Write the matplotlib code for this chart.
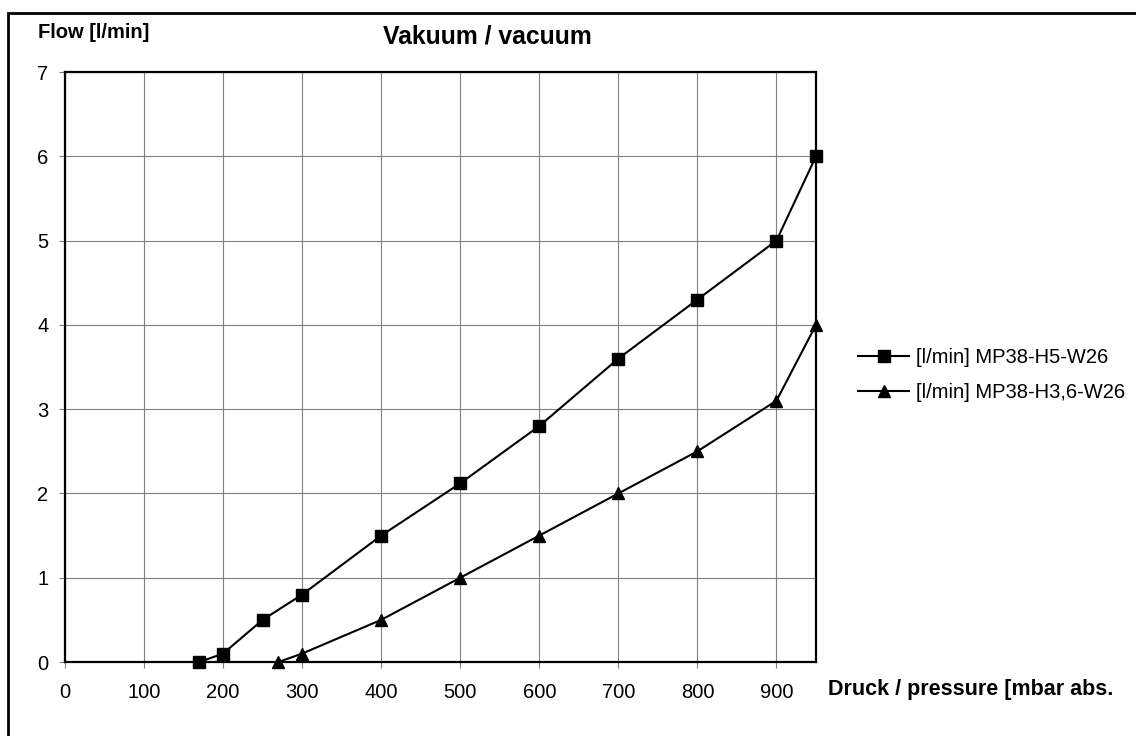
import matplotlib.pyplot as plt
from matplotlib.patches import Rectangle

plt.rcParams['font.family'] = ['Liberation Sans', 'DejaVu Sans']

# data
x_h5 = [170, 200, 250, 300, 400, 500, 600, 700, 800, 900, 950]
y_h5 = [0.0, 0.1, 0.5, 0.8, 1.5, 2.12, 2.8, 3.6, 4.3, 5.0, 6.0]
x_h36 = [270, 300, 400, 500, 600, 700, 800, 900, 950]
y_h36 = [0.0, 0.1, 0.5, 1.0, 1.5, 2.0, 2.5, 3.1, 4.0]
label_h5 = "[l/min] MP38-H5-W26"
label_h36 = "[l/min] MP38-H3,6-W26"
x_ticks = [0, 100, 200, 300, 400, 500, 600, 700, 800, 900]
y_ticks = [0, 1, 2, 3, 4, 5, 6, 7]

W, H = 1136, 736
fig = plt.figure(figsize=(W / 100, H / 100), dpi=100)

# outer frame (runs off the right / bottom edge like the original)
fig.patches.append(Rectangle((8 / W, -0.05), 1.2, 1 - 13 / H + 0.05,
                             transform=fig.transFigure, fill=False,
                             edgecolor='black', linewidth=2))

ax = fig.add_axes([65 / W, 1 - 662 / H, (816 - 65) / W, (662 - 72) / H])
ax.plot(x_h5, y_h5, color='black', lw=1.5, marker='s', ms=8,
        clip_on=False, zorder=5, label=label_h5)
ax.plot(x_h36, y_h36, color='black', lw=1.5, marker='^', ms=9,
        clip_on=False, zorder=5, label=label_h36)

ax.set_xlim(0, 950)
ax.set_ylim(0, 7)
ax.set_xticks(x_ticks)
ax.set_yticks(y_ticks)
ax.grid(True, color='#808080', lw=0.8)
for s in ax.spines.values():
    s.set_linewidth(1.6)
    s.set_color('black')
ax.tick_params(direction='out', length=4, width=0.8, color='#808080',
               labelsize=14.5)
ax.tick_params(axis='y', pad=8)
ax.tick_params(axis='x', pad=11)

fig.text(38 / W, 1 - 33 / H, "Flow [l/min]", fontsize=14.5, fontweight='bold',
         va='center', ha='left')
fig.text(487 / W, 1 - 36 / H, "Vakuum / vacuum", fontsize=17.8,
         fontweight='bold', va='center', ha='center')
fig.text(828 / W, 1 - 690 / H, "Druck / pressure [mbar abs.", fontsize=15.5,
         fontweight='bold', va='center', ha='left')

leg = ax.legend(loc='center left', bbox_to_anchor=(858 / W, 1 - 375 / H),
                bbox_transform=fig.transFigure, frameon=False, fontsize=14.5,
                handlelength=2.55, handletextpad=0.35, labelspacing=0.75,
                borderaxespad=0, borderpad=0)

fig.savefig("out.png", dpi=100)
